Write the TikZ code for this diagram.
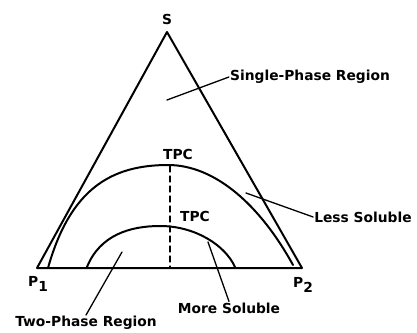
\documentclass[tikz,border=0pt]{standalone}
\usepackage{fontspec}
\setmainfont{DejaVu Sans}
\usetikzlibrary{positioning}
\newcommand{\lowsub}[1]{\raisebox{-0.55ex}{#1}}

\begin{document}
\begin{tikzpicture}[x=1pt, y=-1pt, line cap=round, line join=round,
  lbl/.style={font=\bfseries\fontsize{13.8}{15}\selectfont, inner sep=1pt},
  curve/.style={line width=2pt},
  leader/.style={line width=1.3pt}]
  \useasboundingbox (0,0) rectangle (417,332);

  % Triangle corners
  \coordinate (S) at (167,32);
  \coordinate (P1) at (37,268);
  \coordinate (P2) at (302,268);
  \draw[curve] (P1) -- (S) -- (P2) -- cycle;

  % Binodal curves
  \draw[curve] (48,268) .. controls (70,190) and (110,165) .. (168,165)
    .. controls (215,165) and (260,205) .. (293,265);
  \draw[curve] (87,267) .. controls (100,235) and (130,226) .. (160,226)
    .. controls (195,226) and (225,245) .. (235,267);

  % Tie line through the plait points
  \coordinate (top) at (170,166);
  \coordinate (base) at (170,268);
  \draw[line width=1.2pt, dash pattern=on 6pt off 4pt] (top) -- (base);

  % Corner and point labels
  \node[lbl] (sl) at (167,19) {S};
  \node[lbl] (p1l) at (38,284) {P\lowsub{1}};
  \node[lbl] (p2l) at (303,285) {P\lowsub{2}};
  \node[lbl] (tpc1) at (178,154) {TPC};
  \node[lbl] (tpc2) at (195,216) {TPC};

  % Region labels and their leaders
  \node[lbl] (single) at (310,77) {Single-Phase Region};
  \node[lbl] (less) at (363,217) {Less Soluble};
  \node[lbl] (more) at (229,308) {More Soluble};
  \node[lbl] (two) at (86,323) {Two-Phase Region};

  \coordinate (a1) at (167,100);
  \coordinate (a2) at (246,193);
  \coordinate (a3) at (208,242);
  \coordinate (a4) at (122,252);
  \draw[leader] (a1) -- (single.west);
  \draw[leader] (a2) -- (less.west);
  \draw[leader] (a3) -- (more.north);
  \draw[leader] (a4) -- (two.north);
\end{tikzpicture}
\end{document}
